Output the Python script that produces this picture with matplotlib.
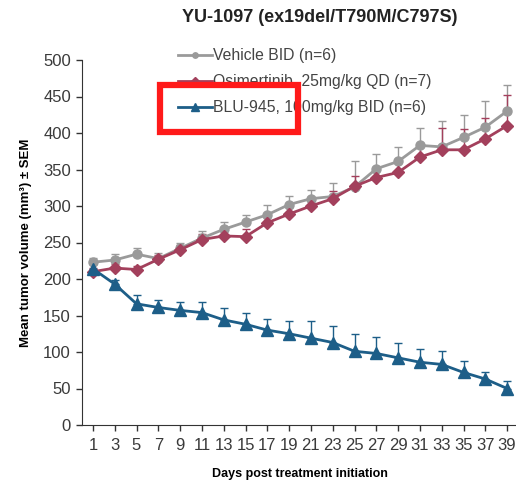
import matplotlib
matplotlib.use("Agg")
import matplotlib.pyplot as plt
from matplotlib import font_manager
from matplotlib.patches import Rectangle
from matplotlib.lines import Line2D

days = [1, 3, 5, 7, 9, 11, 13, 15, 17, 19, 21, 23, 25, 27, 29, 31, 33, 35, 37, 39]
vehicle = [223, 226, 234, 228, 242, 256, 268, 278, 288, 302, 310, 313, 326, 351, 361, 383, 381, 394, 408, 430]
vehicle_err = [6, 8, 8, 8, 8, 10, 10, 10, 14, 12, 12, 18, 36, 20, 20, 24, 36, 30, 36, 36]
osim = [210, 215, 213, 227, 240, 254, 259, 258, 277, 289, 300, 310, 327, 339, 346, 367, 377, 377, 392, 410]
osim_err = [5, 6, 5, 6, 6, 8, 8, 10, 8, 10, 10, 10, 14, 12, 14, 18, 30, 28, 28, 42]
blu = [214, 193, 166, 161, 157, 154, 144, 138, 130, 125, 119, 113, 101, 98, 92, 86, 83, 72, 63, 50]
blu_err = [6, 6, 12, 10, 12, 14, 16, 16, 15, 18, 24, 22, 23, 22, 20, 18, 19, 16, 9, 10]

labels = ["Vehicle BID (n=6)", "Osimertinib, 25mg/kg QD (n=7)", "BLU-945, 100mg/kg BID (n=6)"]
title = "YU-1097 (ex19del/T790M/C797S)"
xlabel = "Days post treatment initiation"
ylabel = "Mean tumor volume (mm\u00b3) \u00b1 SEM"
yticks = [0, 50, 100, 150, 200, 250, 300, 350, 400, 450, 500]

plt.rcParams['font.family'] = ['Liberation Sans', 'DejaVu Sans']
names = {f.name for f in font_manager.fontManager.ttflist}
tick_family = ['Liberation Sans Narrow', 'Liberation Sans'] if 'Liberation Sans Narrow' in names else ['Liberation Sans']

W, H = 516, 487
fig = plt.figure(figsize=(W/100, H/100), dpi=100)
ax = fig.add_axes([82/W, 62/H, 436/W, 365/H])

series = [
    (vehicle, vehicle_err, '#9a9a9a', 'o', 6.5),
    (osim, osim_err, '#a3405c', 'D', 6.5),
    (blu, blu_err, '#1d5e88', '^', 8.5),
]
handles = []
for (y, e, c, m, ms), lab in zip(series, labels):
    ax.errorbar(days, y, yerr=[[0]*len(e), e], color=c, marker=m, ms=ms,
                lw=2, elinewidth=1, capsize=3, capthick=1, zorder=3)
    handles.append(Line2D([], [], color=c, marker=m, ms=ms*0.6, lw=2, label=lab))

ax.set_xlim(0, 40)
ax.set_ylim(0, 500)
ax.set_xticks(days)
ax.set_xticklabels([str(d) for d in days], fontsize=12, family=tick_family, color='#3a3a3a')
ax.set_yticks(yticks)
ax.set_yticklabels([str(v) for v in yticks], fontsize=12, family=tick_family, color='#3a3a3a')
ax.tick_params(axis='both', direction='out', length=4, width=1, color='#333333')
ax.tick_params(axis='y', pad=4)
ax.tick_params(axis='x', pad=5)
for s in ['top', 'right']:
    ax.spines[s].set_visible(False)
for s in ['left', 'bottom']:
    ax.spines[s].set_color('#333333')

ax.set_xlabel(xlabel, fontsize=9, fontweight='bold', labelpad=11)
ax.set_ylabel(ylabel, fontsize=9.5, fontweight='bold', labelpad=8)
fig.text(320/W, 1 - 18/H, title, fontsize=13, fontweight='bold', ha='center', va='center', color='#222222')

leg = ax.legend(handles=handles, loc='upper left', bbox_to_anchor=(0.205, 1.05), frameon=False,
                fontsize=11.3, handlelength=2.2, handletextpad=0.05, labelspacing=0.7,
                borderaxespad=0)
for t in leg.get_texts():
    t.set_color('#444444')

# red highlight box drawn over the third legend entry
fig.patches.append(Rectangle((160/W, 1 - 132/H), 138/W, 47/H, transform=fig.transFigure,
                             fill=False, edgecolor='#ff1a1a', linewidth=4.5, zorder=10))

fig.savefig('out.png', dpi=100)
